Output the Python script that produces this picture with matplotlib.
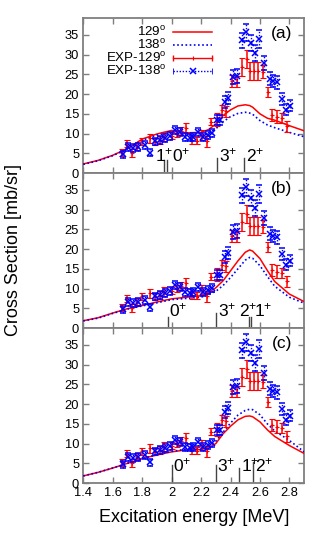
import matplotlib
matplotlib.use("Agg")
import matplotlib.pyplot as plt
from matplotlib.lines import Line2D

plt.rcParams['font.family'] = ['Liberation Sans', 'DejaVu Sans']
plt.rcParams['mathtext.fontset'] = 'custom'
plt.rcParams['mathtext.rm'] = 'Liberation Sans'

# experimental data, EXP-129 (red)
red_E = [1.66, 1.695, 1.73, 1.765, 1.80, 1.85, 1.885, 1.92, 1.95, 2.00, 2.035, 2.065,
         2.095, 2.135, 2.17, 2.205, 2.24, 2.27, 2.305, 2.34, 2.37, 2.41, 2.445, 2.48,
         2.51, 2.535, 2.56, 2.585, 2.62, 2.655, 2.685, 2.715, 2.75, 2.785]
red_v = [5.2, 7.4, 5.0, 6.7, 8.0, 8.8, 8.0, 8.4, 9.2, 9.4, 10.0, 10.6,
         11.4, 8.4, 8.2, 9.6, 8.0, 13.0, 13.5, 16.0, 15.6, 23.4, 23.2, 26.8,
         28.9, 25.9, 25.9, 25.9, 25.7, 20.6, 14.7, 14.3, 13.9, 11.8]
red_err = [0.9, 0.9, 1.0, 0.9, 0.9, 1.2, 0.9, 1.0, 1.1, 0.9, 0.9, 1.0,
           1.2, 1.0, 0.9, 1.3, 1.5, 0.9, 1.7, 1.3, 1.5, 1.5, 1.3, 2.3,
           2.3, 2.3, 2.3, 2.3, 1.7, 1.3, 1.6, 1.7, 1.3, 1.3]

# experimental data, EXP-138 (blue)
blue_E = [1.668, 1.706, 1.736, 1.77, 1.82, 1.853, 1.888, 1.922, 1.956, 1.99, 2.024, 2.058,
          2.092, 2.126, 2.148, 2.182, 2.216, 2.244, 2.273, 2.307, 2.33, 2.364, 2.386,
          2.415, 2.445, 2.475, 2.505, 2.54, 2.565, 2.595, 2.63, 2.665, 2.69, 2.715,
          2.75, 2.78, 2.805]
blue_v = [4.7, 6.7, 6.4, 6.7, 7.1, 5.2, 8.0, 8.4, 8.8, 9.4, 10.9, 10.5,
          9.2, 9.0, 9.2, 10.5, 9.2, 9.6, 10.1, 13.5, 13.5, 18.1, 19.0,
          24.3, 24.5, 33.6, 35.7, 32.9, 30.4, 34.0, 27.8, 23.9, 23.3, 23.0,
          18.8, 16.0, 17.0]
blue_err = [1.0, 1.0, 1.0, 1.0, 1.0, 0.9, 1.0, 1.0, 1.0, 1.0, 1.0, 1.0,
            1.0, 1.0, 1.0, 1.0, 1.0, 1.0, 1.0, 1.3, 1.3, 1.5, 1.5,
            1.8, 1.8, 2.0, 2.2, 2.0, 2.0, 2.2, 1.8, 1.6, 1.6, 1.6,
            1.5, 1.4, 1.4]

# calculated curves
calc_E = [1.4, 1.5, 1.6, 1.7, 1.8, 1.9, 2.0, 2.1, 2.2, 2.25, 2.3, 2.35, 2.4, 2.45,
          2.5, 2.53, 2.55, 2.6, 2.65, 2.7, 2.8, 2.9]
calc129 = {
    'a': [2.3, 3.2, 4.5, 6.2, 8.6, 9.9, 10.8, 10.2, 10.3, 11.0, 12.4, 14.6, 16.0, 17.0,
          17.3, 17.1, 16.7, 15.0, 13.9, 13.4, 12.0, 10.7],
    'b': [1.85, 2.6, 3.8, 4.9, 5.7, 6.6, 7.4, 7.8, 8.2, 9.0, 10.2, 12.0, 14.5, 17.0,
          19.2, 19.8, 19.5, 17.6, 14.6, 11.8, 8.6, 6.7],
    'c': [1.8, 2.7, 3.8, 5.0, 6.2, 7.1, 7.9, 8.4, 8.5, 8.9, 10.0, 12.5, 14.4, 16.0,
          16.9, 17.0, 16.8, 15.5, 13.5, 11.8, 9.5, 7.5],
}
calc138 = {
    'a': [2.2, 3.1, 4.4, 6.1, 8.3, 9.6, 10.4, 9.6, 9.5, 10.0, 11.2, 13.0, 14.3, 15.1,
          15.4, 15.2, 14.9, 13.3, 12.2, 11.5, 10.3, 9.2],
    'b': [1.8, 2.5, 3.7, 4.8, 5.6, 6.4, 7.2, 7.5, 7.8, 8.5, 9.3, 10.8, 12.8, 15.0,
          17.2, 17.9, 17.7, 15.8, 13.1, 10.6, 7.8, 6.3],
    'c': [1.8, 2.7, 3.8, 5.0, 6.2, 7.2, 8.0, 8.6, 8.8, 9.3, 10.6, 12.9, 15.2, 17.2,
          18.4, 18.7, 18.6, 17.3, 15.0, 13.2, 10.8, 7.9],
}

# level markers: line energy, line height, label, label left edge
levels = {
    'a': [(1.951, 3.3, '1', 1.888), (1.967, 3.3, '0', 2.001),
          (2.307, 3.7, '3', 2.325), (2.493, 3.7, '2', 2.506)],
    'b': [(1.978, 2.9, '0', 1.985), (2.303, 3.8, '3', 2.312),
          (2.523, 2.9, '2', 2.455), (2.538, 2.9, '1', 2.560)],
    'c': [(2.001, 4.6, '0', 2.010), (2.300, 4.6, '3', 2.310),
          (2.461, 3.7, '1', 2.472), (2.556, 5.4, '2', 2.568)],
}

fig = plt.figure(figsize=(3.32, 5.41), dpi=100)
frame_col = '#7f7f7f'
h = 0.2865
axes = {}
for i, p in enumerate(['a', 'b', 'c']):
    ax = fig.add_axes([0.251, 0.1072 + (2 - i) * h, 0.665, h])
    axes[p] = ax

    ax.plot(calc_E, calc129[p], color='red', lw=1.1, zorder=3)
    ax.plot(calc_E, calc138[p], color='blue', lw=1.2, ls=(0, (1, 1.5)), zorder=3)

    ax.errorbar(red_E, red_v, yerr=red_err, fmt='+', color='red', ms=3,
                mew=0.8, elinewidth=1.1, capsize=2.2, capthick=1.0, zorder=4)
    eb = ax.errorbar(blue_E, blue_v, yerr=blue_err, fmt='x', color='blue', ms=4,
                     mew=1.1, elinewidth=1.0, capsize=2.2, capthick=0.6, zorder=5)
    eb[2][0].set_linestyle((0, (1, 1.2)))

    for E, hh, lab, xl in levels[p]:
        ax.plot([E, E], [0, hh], color='#444444', lw=1.0, zorder=2)
        ax.text(xl, 2.9, r'$\mathregular{' + lab + '^{+}}$', ha='left',
                va='baseline', fontsize=12.5)

    ax.set_xlim(1.4, 2.9)
    ax.set_ylim(0, 39.3)
    ax.set_yticks(range(0, 40, 5))
    ax.set_xticks([1.4, 1.6, 1.8, 2.0, 2.2, 2.4, 2.6, 2.8])
    ax.tick_params(direction='in', length=4, width=1.0, color=frame_col,
                   top=True, right=True, labelsize=9.3, pad=3)
    for s in ax.spines.values():
        s.set_color(frame_col)
        s.set_linewidth(1.3)
    if p != 'c':
        ax.tick_params(labelbottom=False)
    ax.text(0.899, 0.903, '(' + p + ')', transform=ax.transAxes, ha='center',
            va='center', fontsize=12.5)

axes['c'].set_xticklabels(['1.4', '1.6', '1.8', '2', '2.2', '2.4', '2.6', '2.8'])
axes['c'].set_xlabel('Excitation energy [MeV]', fontsize=13, labelpad=7)
fig.text(0.042, 0.537, 'Cross Section [mb/sr]', rotation=90, ha='center',
         va='center', fontsize=13)

# legend drawn gnuplot style: text right aligned, sample on the right
ax = axes['a']
leg_labels = [r'129$\mathregular{^o}$', r'138$\mathregular{^o}$',
              r'EXP-129$\mathregular{^o}$', r'EXP-138$\mathregular{^o}$']
leg_y = [0.910, 0.826, 0.742, 0.658]
x0, x1 = 0.406, 0.583
for k, (lab, y) in enumerate(zip(leg_labels, leg_y)):
    ax.text(0.375, y, lab, transform=ax.transAxes, ha='right', va='center',
            fontsize=9.6)
    if k == 0:
        ax.add_line(Line2D([x0, x1], [y, y], transform=ax.transAxes, color='red', lw=1.1))
    elif k == 1:
        ax.add_line(Line2D([x0, x1], [y, y], transform=ax.transAxes, color='blue',
                           lw=1.2, ls=(0, (1, 1.5))))
    elif k == 2:
        ax.add_line(Line2D([x0, x1], [y, y], transform=ax.transAxes, color='red', lw=1.0))
        ax.add_line(Line2D([x0, x1], [y, y], transform=ax.transAxes, color='red',
                           ls='none', marker='|', ms=5, mew=1.0))
        ax.add_line(Line2D([(x0 + x1) / 2], [y], transform=ax.transAxes, color='red',
                           ls='none', marker='|', ms=3, mew=0.8))
    else:
        ax.add_line(Line2D([x0, x1], [y, y], transform=ax.transAxes, color='blue',
                           lw=1.0, ls=(0, (1, 1.2))))
        ax.add_line(Line2D([x0, x1], [y, y], transform=ax.transAxes, color='blue',
                           ls='none', marker='|', ms=5, mew=0.6))
        ax.add_line(Line2D([(x0 + x1) / 2], [y], transform=ax.transAxes, color='blue',
                           ls='none', marker='x', ms=4, mew=1.1))

fig.savefig('out.png', dpi=100)
